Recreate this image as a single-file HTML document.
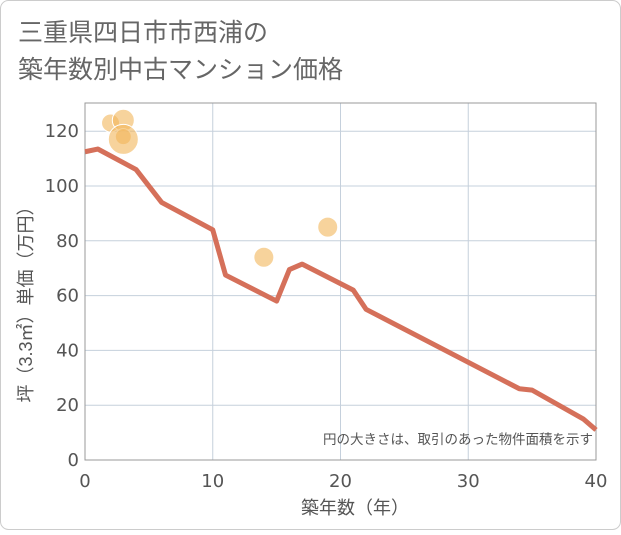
<!DOCTYPE html>
<html><head><meta charset="utf-8"><style>
body{margin:0;background:#fff;}
.f{font-family:"Liberation Sans","Noto Sans CJK JP",sans-serif;}
</style></head><body>
<svg width="621" height="530" class="f">
<rect x="0.5" y="0.5" width="620" height="529" rx="8" fill="#fff" stroke="#ccc"/>
<text x="18" y="41" font-size="25" fill="#666">三重県四日市市西浦の</text>
<text x="18" y="78" font-size="25" fill="#666">築年数別中古マンション価格</text>
<g id="grid"></g>
<rect x="85" y="103" width="511" height="357" fill="none" stroke="#999"/>
<g id="marks"></g>
<g id="ticks"></g>
<text x="593" y="444" font-size="13.5" fill="#555" text-anchor="end">円の大きさは、取引のあった物件面積を示す</text>
<text x="355" y="514" font-size="18" fill="#555" text-anchor="middle">築年数（年）</text>
<text transform="translate(32,300) rotate(-90)" font-size="18" fill="#555" text-anchor="middle">坪（3.3㎡）単価（万円）</text>
</svg>
<script>
const lineX=[0,1,4,6,10,11,15,16,17,21,22,34,35,39,40];
const lineY=[112.5,113.5,106,94,84,67.5,58,69.5,71.5,62,55,26,25.5,15,11];
const bubX=[2,3,3,3,14,19];
const bubY=[123,124,118,117,74,85];
const bubR=[9,11,8,15,10,10];
const xTicks=[0,10,20,30,40];
const yTicks=[0,20,40,60,80,100,120];
const NS="http://www.w3.org/2000/svg";
const sx=v=>85+v*511/40, sy=v=>460-v*2.74;
function mk(t,a,p){const e=document.createElementNS(NS,t);for(const k in a)e.setAttribute(k,a[k]);p.appendChild(e);return e;}
const g=document.getElementById('grid'),m=document.getElementById('marks'),tk=document.getElementById('ticks');
xTicks.forEach(v=>{const l=mk('line',{x1:sx(v),x2:sx(v),y1:103,y2:460,stroke:'#c5d0dc'},g);

const t=mk('text',{x:sx(v),y:487,'font-size':18,fill:'#555','text-anchor':'middle','font-family':'DejaVu Sans, sans-serif'},tk);t.textContent=v;
});
yTicks.forEach(v=>{const l=mk('line',{x1:85,x2:596,y1:sy(v),y2:sy(v),stroke:'#c5d0dc'},g);

const t=mk('text',{x:79,y:sy(v)+6,'font-size':18,fill:'#555','text-anchor':'end','font-family':'DejaVu Sans, sans-serif'},tk);t.textContent=v;
});
bubX.forEach((v,i)=>{const c=mk('circle',{cx:sx(v),cy:sy(bubY[i]),r:bubR[i],fill:'#f2b65a','fill-opacity':0.6,stroke:'#fff','stroke-width':1},m);
});
const p=mk('polyline',{points:lineX.map((v,i)=>sx(v)+','+sy(lineY[i])).join(' '),fill:'none',stroke:'#d5705a','stroke-width':5,'stroke-linejoin':'round'},m);

</script>
</body></html>
